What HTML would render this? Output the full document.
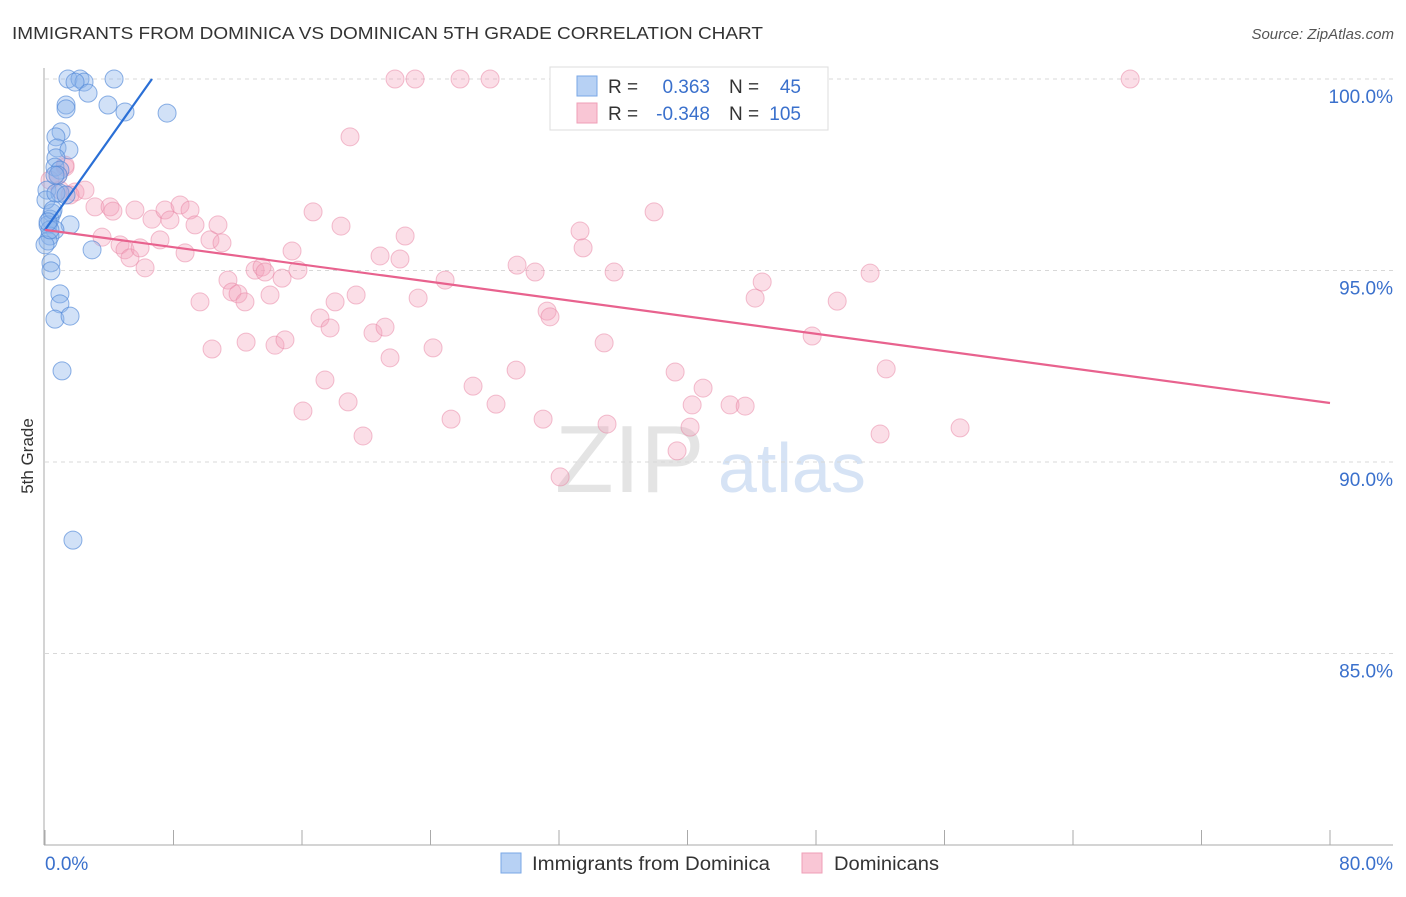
<!DOCTYPE html>
<html><head><meta charset="utf-8"><style>
body{margin:0;background:#fff;font-family:"Liberation Sans",sans-serif}
svg text{font-family:"Liberation Sans",sans-serif}
</style></head><body>
<svg id="c" width="1406" height="892">
<text x="12" y="39" font-size="17.5" fill="#333" textLength="751" lengthAdjust="spacingAndGlyphs">IMMIGRANTS FROM DOMINICA VS DOMINICAN 5TH GRADE CORRELATION CHART</text>
<text x="1394" y="39" font-size="15" fill="#555" text-anchor="end" font-style="italic">Source: ZipAtlas.com</text>
<text x="33" y="456" font-size="17" fill="#333" text-anchor="middle" transform="rotate(-90 33 456)">5th Grade</text>
<text x="555" y="492" font-size="96" fill="#e4e4e4" font-family="Liberation Serif">ZIP</text>
<text x="718" y="492" font-size="70" fill="#d6e3f5">atlas</text>
<g id="grid"></g><g id="axes"></g><g id="pts"></g><g id="trend"></g>
<g>
<rect x="550" y="67" width="278" height="63" fill="#fff" stroke="#ddd"/>
<rect x="577" y="76" width="20" height="20" fill="#b7d1f4" stroke="#7aa7e6"/>
<rect x="577" y="103" width="20" height="20" fill="#f9c6d5" stroke="#ef9fb7"/>
<text x="608" y="93" font-size="19" fill="#333">R = </text><text x="710" y="93" font-size="19" fill="#3a70cc" text-anchor="end">0.363</text>
<text x="729" y="93" font-size="19" fill="#333">N = </text><text x="801" y="93" font-size="19" fill="#3a70cc" text-anchor="end">45</text>
<text x="608" y="120" font-size="19" fill="#333">R = </text><text x="710" y="120" font-size="19" fill="#3a70cc" text-anchor="end">-0.348</text>
<text x="729" y="120" font-size="19" fill="#333">N = </text><text x="801" y="120" font-size="19" fill="#3a70cc" text-anchor="end">105</text>
</g>
<g>
<rect x="501" y="853" width="20" height="20" fill="#b7d1f4" stroke="#7aa7e6"/>
<text x="532" y="870" font-size="19" fill="#333" textLength="238" lengthAdjust="spacingAndGlyphs">Immigrants from Dominica</text>
<rect x="802" y="853" width="20" height="20" fill="#f9c6d5" stroke="#ef9fb7"/>
<text x="834" y="870" font-size="19" fill="#333" textLength="105" lengthAdjust="spacingAndGlyphs">Dominicans</text>
</g>
</svg>
<script>
const blueX=[1.43,2.18,2.43,4.30,1.87,2.68,1.31,1.31,3.92,4.98,7.60,1.0,0.68,0.75,1.49,0.68,0.62,0.93,0.81,0.12,0.93,0.44,0.31,0.19,1.56,0.62,0.31,0.19,2.93,0.37,0.37,0.93,0.93,0.62,1.56,1.06,1.74,0.06,0.68,0.0,0.5,0.31,1.31,0.62,0.19];
const blueY=[100,100,99.92,100,99.92,99.63,99.32,99.22,99.32,99.14,99.11,98.62,98.49,98.20,98.15,97.94,97.70,97.62,97.49,97.10,97.02,96.50,96.34,96.19,96.19,96.06,95.90,95.77,95.54,95.20,94.99,94.39,94.13,93.73,93.81,92.38,87.96,96.84,97.02,95.67,96.58,96.06,96.97,97.49,96.27];
const pinkX=[21.79,23.04,25.84,27.71,32.38,43.59,67.56,18.99,1.25,0.81,0.93,1.87,2.49,1.56,3.11,4.05,4.23,3.55,4.67,4.98,5.29,5.92,6.23,5.60,6.66,7.47,7.78,7.16,8.41,9.03,9.34,8.72,10.27,10.77,11.02,9.65,10.40,11.39,11.64,12.02,12.45,12.52,13.08,13.51,13.70,14.01,14.32,14.94,14.76,15.38,15.75,16.69,16.06,17.12,17.43,17.75,18.06,18.43,18.87,19.37,19.80,20.42,20.86,21.17,21.48,22.10,22.42,23.23,24.16,24.91,25.28,26.65,28.08,29.39,29.33,30.51,31.01,31.26,31.44,32.07,33.31,33.50,34.81,34.99,35.43,37.92,39.23,39.35,40.16,40.29,40.97,42.65,43.59,44.21,44.65,47.76,49.32,51.37,51.99,52.37,56.97,1.25,0.31];
const pinkY=[100,100,100,100,100,100,100,98.49,97.70,97.49,97.10,97.05,97.10,96.97,96.66,96.66,96.55,95.87,95.67,95.54,95.33,95.59,95.07,96.58,96.34,96.58,96.32,95.80,96.71,96.58,96.19,95.46,95.80,96.19,95.72,94.18,92.95,94.75,94.44,94.39,94.18,93.13,95.01,95.09,94.96,94.36,93.05,93.19,94.80,95.51,95.01,96.53,91.33,93.76,92.14,93.50,94.18,96.16,91.57,94.36,90.68,93.37,95.38,93.52,92.72,95.30,95.90,94.28,92.98,94.75,91.12,91.98,91.51,95.14,92.40,94.96,91.12,93.94,93.79,89.61,96.03,95.59,93.11,90.99,94.96,96.53,92.35,90.29,90.91,91.49,91.93,91.49,91.46,94.28,94.70,93.29,94.20,94.93,90.73,92.43,90.89,97.75,97.36];
const yTicks=[100,95,90,85];
const yTickLabels=["100.0%","95.0%","90.0%","85.0%"];
const xTickCount=10;
const blueTrend=[[0,96.06],[6.66,100]];
const pinkTrend=[[0,96.06],[80,91.54]];
const NS="http://www.w3.org/2000/svg";
const sx=v=>45+v/80*1285;
const sy=v=>79+(100-v)/5*191.5;
function mk(tag,attrs,parent){const e=document.createElementNS(NS,tag);for(const k in attrs)e.setAttribute(k,attrs[k]);document.getElementById(parent).appendChild(e);return e;}
yTicks.forEach((t,i)=>{
 const g=mk('line',{x1:45,x2:1393,y1:sy(t),y2:sy(t),stroke:'#d8d8d8','stroke-dasharray':'4,4'},'grid');
 
 
 const l=mk('text',{x:1393,y:sy(t)+24,'font-size':19,fill:'#3a70cc','text-anchor':'end'},'grid');
 l.textContent=yTickLabels[i];
 
 
});
const ax=mk('line',{x1:44,x2:44,y1:68,y2:845,stroke:'#aaa'},'axes');


const bx=mk('line',{x1:44,x2:1393,y1:845,y2:845,stroke:'#aaa'},'axes');


for(let i=0;i<=xTickCount;i++){const x=sx(i*80/xTickCount);
 const t=mk('line',{x1:x,x2:x,y1:830,y2:845,stroke:'#aaa'},'axes');
 
 }
const x0=mk('text',{x:45,y:870,'font-size':19,fill:'#3a70cc'},'axes');x0.textContent='0.0%';


const x1=mk('text',{x:1393,y:870,'font-size':19,fill:'#3a70cc','text-anchor':'end'},'axes');x1.textContent='80.0%';


pinkX.forEach((v,i)=>{const c=mk('circle',{cx:sx(v),cy:sy(pinkY[i]),r:9,fill:'rgba(244,160,186,0.35)',stroke:'rgba(232,130,162,0.5)','stroke-width':1},'pts');
 
 });
blueX.forEach((v,i)=>{const c=mk('circle',{cx:sx(v),cy:sy(blueY[i]),r:9,fill:'rgba(140,180,235,0.4)',stroke:'rgba(80,135,215,0.65)','stroke-width':1},'pts');
 
 });
const tb=mk('line',{x1:sx(blueTrend[0][0]),y1:sy(blueTrend[0][1]),x2:sx(blueTrend[1][0]),y2:sy(blueTrend[1][1]),stroke:'#2a6fd6','stroke-width':2.2},'trend');


const tp=mk('line',{x1:sx(pinkTrend[0][0]),y1:sy(pinkTrend[0][1]),x2:sx(pinkTrend[1][0]),y2:sy(pinkTrend[1][1]),stroke:'#e8628e','stroke-width':2.2},'trend');


</script>
</body></html>
